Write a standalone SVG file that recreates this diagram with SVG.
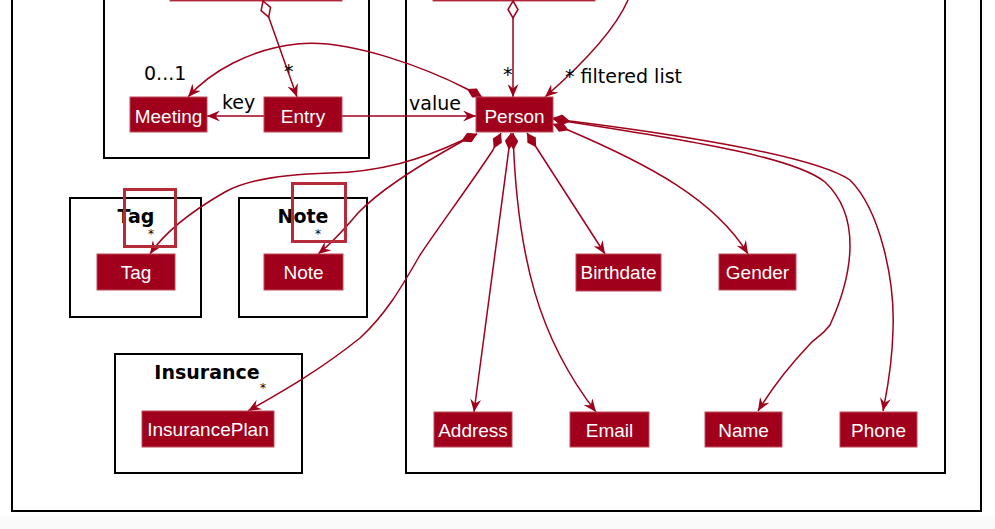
<svg xmlns="http://www.w3.org/2000/svg" width="995" height="529" viewBox="0 0 995 529">
<style>
.frame{fill:none;stroke:#000;stroke-width:2}
.node rect{fill:#A0001B;stroke:#C04A5A;stroke-width:1}
.node text{fill:#fff;font-family:"Liberation Sans",Arial,sans-serif;font-size:19px;text-anchor:middle}
.ptitle{font-family:"DejaVu Sans",sans-serif;font-weight:bold;font-size:19px;text-anchor:middle;fill:#000}
.lbl{font-family:"DejaVu Sans",sans-serif;font-size:19px;fill:#000}
.star{font-family:"DejaVu Sans",sans-serif;font-size:12px;fill:#000;text-anchor:middle}
.hl{fill:none;stroke:#B52B3A;stroke-width:3}
#connectors path{fill:none;stroke:#A0001B;stroke-width:1.5}
.c{marker-start:url(#comp);marker-end:url(#arr)}
.a{marker-end:url(#arr)}
.ag{marker-start:url(#agg);marker-end:url(#arr)}
</style>
<defs>
<marker id="arr" markerUnits="userSpaceOnUse" viewBox="0 0 13 11" refX="13" refY="5.5" markerWidth="13" markerHeight="11" orient="auto"><path d="M13,5.5 L0,0 L4.5,5.5 L0,11 Z" fill="#A0001B"/></marker>
<marker id="comp" markerUnits="userSpaceOnUse" viewBox="0 0 17 10" refX="0" refY="5" markerWidth="17" markerHeight="10" orient="auto"><path d="M0,5 L8.5,0 L17,5 L8.5,10 Z" fill="#A0001B"/></marker>
<marker id="agg" markerUnits="userSpaceOnUse" viewBox="-1 -1 19 12" refX="0" refY="5" markerWidth="19" markerHeight="12" orient="auto"><path d="M0,5 L8.5,0 L17,5 L8.5,10 Z" fill="#fff" stroke="#A0001B" stroke-width="1.5"/></marker>
</defs>
<rect x="0" y="0" width="995" height="529" fill="#fff"/>
<rect x="0" y="516" width="995" height="13" fill="#FAFAFA"/>

<g id="frames">
<rect class="frame" x="12" y="-20" width="969" height="531"/>
<rect class="frame" x="104" y="-20" width="265" height="178"/>
<rect class="frame" x="406" y="-20" width="539" height="493"/>
<g id="pkg-tag"><rect class="frame" x="70" y="198" width="131" height="119"/><text class="ptitle" x="136" y="223">Tag</text></g>
<g id="pkg-note"><rect class="frame" x="239" y="198" width="128" height="119"/><text class="ptitle" x="303" y="223">Note</text></g>
<g id="pkg-insurance"><rect class="frame" x="115" y="354" width="187" height="119"/><text class="ptitle" x="207" y="379">Insurance</text></g>
</g>

<g id="top-left-parent" class="node"><rect x="170" y="-30" width="172" height="31"/></g>
<g id="top-right-parent" class="node"><rect x="433" y="-30" width="162" height="31"/></g>

<g id="connectors">
<path class="ag" d="M263,1 L297,97"/>
<path class="ag" d="M513,1 L513,97"/>
<path class="a" d="M628,0 C 615,30 585,62 545,97"/>
<path class="a" d="M264,116 L207,116"/>
<path class="a" d="M342,116 L476,116"/>
<path class="c" d="M482,97 L467,89 C 430,70 350,38 297,44 C 250,49 210,72 188,97"/>
<path class="c" d="M477,134 L461,141 C 420,160 380,172 330,173 C 290,174 250,178 225,192 C 190,212 165,232 150,254"/>
<path class="c" d="M477,134 L461,142 C 425,162 380,190 358,213 C 342,232 332,243 318,254"/>
<path class="c" d="M501,133 L493,150 C 470,185 440,225 420,255 C 400,290 385,315 360,338 C 320,370 285,390 248,411"/>
<path class="c" d="M511,133 L474,412"/>
<path class="c" d="M513,133 C 517,260 540,340 596,412"/>
<path class="c" d="M527,133 L605,254"/>
<path class="c" d="M553,124 L568,130 C 650,165 715,200 748,254"/>
<path class="c" d="M553,119 L570,122 C 700,142 795,158 825,182 C 860,215 855,270 830,325 C 822,336 815,338 810,344 C 790,365 772,388 758,411"/>
<path class="c" d="M553,118 L570,121 C 720,140 820,160 850,180 C 880,210 895,280 893,330 C 892,370 886,395 883,411"/>
</g>

<g id="labels">
<text class="lbl" x="144" y="80">0...1</text>
<text class="lbl" x="222" y="109">key</text>
<text class="lbl" x="409" y="110">value</text>
<text class="lbl" x="503" y="81">*</text>
<text class="lbl" x="565" y="83">* filtered list</text>
<text class="lbl" x="284" y="78" font-size="15">*</text>
<text class="star" x="151" y="238">*</text>
<text class="star" x="318" y="238">*</text>
<text class="star" x="263" y="392">*</text>
</g>

<g id="node-meeting" class="node"><rect x="130" y="97" width="77" height="35"/><text x="168.5" y="122.5">Meeting</text></g>
<g id="node-entry" class="node"><rect x="264" y="97" width="78" height="35"/><text x="303" y="122.5">Entry</text></g>
<g id="node-person" class="node"><rect x="476" y="97" width="77" height="35"/><text x="514.5" y="122.5">Person</text></g>
<g id="node-tag" class="node"><rect x="97" y="254" width="78" height="36"/><text x="136" y="279">Tag</text></g>
<g id="node-note" class="node"><rect x="264" y="254" width="79" height="36"/><text x="303.5" y="279">Note</text></g>
<g id="node-insuranceplan" class="node"><rect x="142" y="411" width="132" height="36"/><text x="208" y="436">InsurancePlan</text></g>
<g id="node-birthdate" class="node"><rect x="576" y="254" width="85" height="37"/><text x="618.5" y="279">Birthdate</text></g>
<g id="node-gender" class="node"><rect x="719" y="254" width="77" height="36"/><text x="757.5" y="279">Gender</text></g>
<g id="node-address" class="node"><rect x="434" y="412" width="78" height="35"/><text x="473" y="436.5">Address</text></g>
<g id="node-email" class="node"><rect x="570" y="412" width="79" height="35"/><text x="609.5" y="436.5">Email</text></g>
<g id="node-name" class="node"><rect x="705" y="412" width="77" height="35"/><text x="743.5" y="436.5">Name</text></g>
<g id="node-phone" class="node"><rect x="840" y="412" width="77" height="35"/><text x="878.5" y="436.5">Phone</text></g>

<g id="highlights">
<rect class="hl" x="124.5" y="189.5" width="51" height="57"/>
<rect class="hl" x="292.5" y="183.5" width="53" height="58"/>
</g>
</svg>
